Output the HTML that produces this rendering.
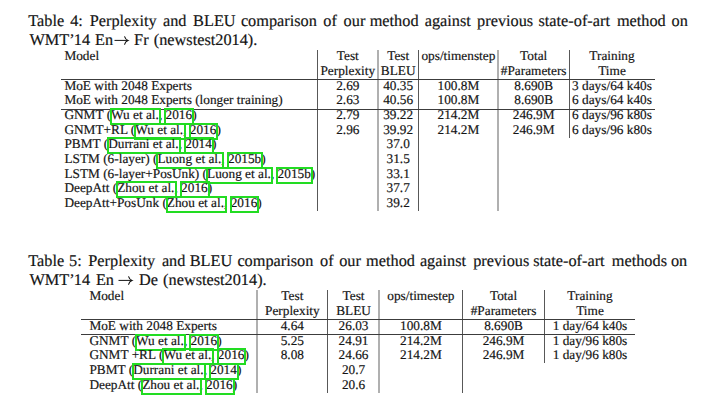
<!DOCTYPE html>
<html><head><meta charset="utf-8"><style>
html,body{margin:0;padding:0;background:#fff;}
body{width:723px;height:407px;position:relative;overflow:hidden;font-family:"Liberation Serif",serif;color:#141414;}
.t{position:absolute;white-space:nowrap;-webkit-text-stroke:0.18px #141414;text-rendering:geometricPrecision;}
.j{text-align:justify;text-align-last:justify;white-space:normal;}
.l{position:absolute;}
.c{position:relative;}
.c::after{content:"";position:absolute;left:-1.2px;right:0.8px;top:0.8px;bottom:-2.8px;border:2px solid #22dc22;}
.y::after{right:-2px;}
</style></head><body>
<div class="t" style="left:28.30px;top:13.00px;font-size:16.3px;line-height:16.3px">Table</div>
<div class="t" style="left:70.20px;top:13.00px;font-size:16.3px;line-height:16.3px">4:</div>
<div class="t" style="left:89.70px;top:13.00px;font-size:16.3px;line-height:16.3px">Perplexity</div>
<div class="t" style="left:163.00px;top:13.00px;font-size:16.3px;line-height:16.3px">and</div>
<div class="t" style="left:193.10px;top:13.00px;font-size:16.3px;line-height:16.3px">BLEU</div>
<div class="t" style="left:240.90px;top:13.00px;font-size:16.3px;line-height:16.3px">comparison</div>
<div class="t" style="left:323.30px;top:13.00px;font-size:16.3px;line-height:16.3px">of</div>
<div class="t" style="left:343.60px;top:13.00px;font-size:16.3px;line-height:16.3px">our</div>
<div class="t" style="left:369.70px;top:13.00px;font-size:16.3px;line-height:16.3px">method</div>
<div class="t" style="left:424.70px;top:13.00px;font-size:16.3px;line-height:16.3px">against</div>
<div class="t" style="left:477.10px;top:13.00px;font-size:16.3px;line-height:16.3px">previous</div>
<div class="t" style="left:538.50px;top:13.00px;font-size:16.3px;line-height:16.3px">state-of-art</div>
<div class="t" style="left:616.90px;top:13.00px;font-size:16.3px;line-height:16.3px">method</div>
<div class="t" style="left:671.60px;top:13.00px;font-size:16.3px;line-height:16.3px">on</div>
<div class="t" style="left:29.40px;top:32.00px;font-size:16.3px;line-height:16.3px">WMT’</div>
<div class="t" style="left:73.80px;top:32.00px;font-size:16.3px;line-height:16.3px">14</div>
<div class="t" style="left:95.10px;top:32.00px;font-size:16.3px;line-height:16.3px">En</div>
<div class="t" style="left:134.10px;top:32.00px;font-size:16.3px;line-height:16.3px">Fr</div>
<div class="t" style="left:153.80px;top:32.00px;font-size:16.3px;line-height:16.3px">(newstest2014).</div>
<svg class="l" style="left:113.70px;top:36.00px" width="17" height="10" viewBox="0 0 17 10"><path d="M0.5,4.4 H13.6" stroke="#141414" stroke-width="1" fill="none"/><path d="M10.6,0.7 Q11.4,3.5 14.0,4.4 Q11.4,5.3 10.6,8.3" stroke="#141414" stroke-width="1.1" stroke-linecap="round" fill="none"/></svg>
<div class="l" style="left:317px;top:50.30px;width:1px;height:160.90px;background:#585858"></div>
<div class="l" style="left:377px;top:50.30px;width:2px;height:160.90px;background:#b0b0b0"></div>
<div class="l" style="left:418px;top:50.30px;width:1px;height:160.90px;background:#585858"></div>
<div class="l" style="left:497px;top:50.30px;width:2px;height:160.90px;background:#b0b0b0"></div>
<div class="l" style="left:569px;top:50.30px;width:1px;height:88.00px;background:#585858"></div>
<div class="l" style="left:61.20px;top:78.80px;width:593.40px;height:1.0px;background:#3c3c3c"></div>
<div class="l" style="left:61.20px;top:108.50px;width:593.40px;height:1.0px;background:#3c3c3c"></div>
<div class="t" style="left:64.40px;top:49.00px;font-size:13.3px;line-height:13.3px">Model</div>
<div class="t" style="left:197.80px;width:300px;text-align:center;top:49.00px;font-size:13.3px;line-height:13.3px">Test</div>
<div class="t" style="left:197.80px;width:300px;text-align:center;top:64.00px;font-size:13.3px;line-height:13.3px">Perplexity</div>
<div class="t" style="left:248.20px;width:300px;text-align:center;top:49.00px;font-size:13.3px;line-height:13.3px">Test</div>
<div class="t" style="left:248.20px;width:300px;text-align:center;top:64.00px;font-size:13.3px;line-height:13.3px">BLEU</div>
<div class="t" style="left:308.40px;width:300px;text-align:center;top:49.00px;font-size:13.3px;line-height:13.3px">ops/timenstep</div>
<div class="t" style="left:383.70px;width:300px;text-align:center;top:49.00px;font-size:13.3px;line-height:13.3px">Total</div>
<div class="t" style="left:383.70px;width:300px;text-align:center;top:64.00px;font-size:13.3px;line-height:13.3px">#Parameters</div>
<div class="t" style="left:462.00px;width:300px;text-align:center;top:49.00px;font-size:13.3px;line-height:13.3px">Training</div>
<div class="t" style="left:462.00px;width:300px;text-align:center;top:64.00px;font-size:13.3px;line-height:13.3px">Time</div>
<div class="t" style="left:64.40px;top:79.00px;font-size:13.3px;line-height:13.3px">MoE with 2048 Experts</div>
<div class="t" style="left:64.40px;top:93.00px;font-size:13.3px;line-height:13.3px">MoE with 2048 Experts (longer training)</div>
<div class="t" style="left:64.40px;top:108.00px;font-size:13.3px;line-height:13.3px">GNMT (<span class="c a">Wu et al.,</span> <span class="c y">2016</span>)</div>
<div class="t" style="left:64.40px;top:123.00px;font-size:13.3px;line-height:13.3px">GNMT+RL (<span class="c a">Wu et al.,</span> <span class="c y">2016</span>)</div>
<div class="t" style="left:64.40px;top:137.00px;font-size:13.3px;line-height:13.3px">PBMT (<span class="c a">Durrani et al.,</span> <span class="c y">2014</span>)</div>
<div class="t" style="left:64.40px;top:152.00px;font-size:13.3px;line-height:13.3px">LSTM (6-layer) (<span class="c a">Luong et al.,</span> <span class="c y">2015b</span>)</div>
<div class="t" style="left:64.40px;top:167.00px;font-size:13.3px;line-height:13.3px">LSTM (6-layer+PosUnk) (<span class="c a">Luong et al.,</span> <span class="c y">2015b</span>)</div>
<div class="t" style="left:64.40px;top:181.00px;font-size:13.3px;line-height:13.3px">DeepAtt (<span class="c a">Zhou et al.,</span> <span class="c y">2016</span>)</div>
<div class="t" style="left:64.40px;top:196.00px;font-size:13.3px;line-height:13.3px">DeepAtt+PosUnk (<span class="c a">Zhou et al.,</span> <span class="c y">2016</span>)</div>
<div class="t" style="left:248.20px;width:300px;text-align:center;top:79.00px;font-size:13.3px;line-height:13.3px">40.35</div>
<div class="t" style="left:248.20px;width:300px;text-align:center;top:93.00px;font-size:13.3px;line-height:13.3px">40.56</div>
<div class="t" style="left:248.20px;width:300px;text-align:center;top:108.00px;font-size:13.3px;line-height:13.3px">39.22</div>
<div class="t" style="left:248.20px;width:300px;text-align:center;top:123.00px;font-size:13.3px;line-height:13.3px">39.92</div>
<div class="t" style="left:248.20px;width:300px;text-align:center;top:137.00px;font-size:13.3px;line-height:13.3px">37.0</div>
<div class="t" style="left:248.20px;width:300px;text-align:center;top:152.00px;font-size:13.3px;line-height:13.3px">31.5</div>
<div class="t" style="left:248.20px;width:300px;text-align:center;top:167.00px;font-size:13.3px;line-height:13.3px">33.1</div>
<div class="t" style="left:248.20px;width:300px;text-align:center;top:181.00px;font-size:13.3px;line-height:13.3px">37.7</div>
<div class="t" style="left:248.20px;width:300px;text-align:center;top:196.00px;font-size:13.3px;line-height:13.3px">39.2</div>
<div class="t" style="left:197.80px;width:300px;text-align:center;top:79.00px;font-size:13.3px;line-height:13.3px">2.69</div>
<div class="t" style="left:308.40px;width:300px;text-align:center;top:79.00px;font-size:13.3px;line-height:13.3px">100.8M</div>
<div class="t" style="left:383.70px;width:300px;text-align:center;top:79.00px;font-size:13.3px;line-height:13.3px">8.690B</div>
<div class="t" style="left:462.00px;width:300px;text-align:center;top:79.00px;font-size:13.3px;line-height:13.3px">3 days/64 k40s</div>
<div class="t" style="left:197.80px;width:300px;text-align:center;top:93.00px;font-size:13.3px;line-height:13.3px">2.63</div>
<div class="t" style="left:308.40px;width:300px;text-align:center;top:93.00px;font-size:13.3px;line-height:13.3px">100.8M</div>
<div class="t" style="left:383.70px;width:300px;text-align:center;top:93.00px;font-size:13.3px;line-height:13.3px">8.690B</div>
<div class="t" style="left:462.00px;width:300px;text-align:center;top:93.00px;font-size:13.3px;line-height:13.3px">6 days/64 k40s</div>
<div class="t" style="left:197.80px;width:300px;text-align:center;top:108.00px;font-size:13.3px;line-height:13.3px">2.79</div>
<div class="t" style="left:308.40px;width:300px;text-align:center;top:108.00px;font-size:13.3px;line-height:13.3px">214.2M</div>
<div class="t" style="left:383.70px;width:300px;text-align:center;top:108.00px;font-size:13.3px;line-height:13.3px">246.9M</div>
<div class="t" style="left:462.00px;width:300px;text-align:center;top:108.00px;font-size:13.3px;line-height:13.3px">6 days/96 k80s</div>
<div class="t" style="left:197.80px;width:300px;text-align:center;top:123.00px;font-size:13.3px;line-height:13.3px">2.96</div>
<div class="t" style="left:308.40px;width:300px;text-align:center;top:123.00px;font-size:13.3px;line-height:13.3px">214.2M</div>
<div class="t" style="left:383.70px;width:300px;text-align:center;top:123.00px;font-size:13.3px;line-height:13.3px">246.9M</div>
<div class="t" style="left:462.00px;width:300px;text-align:center;top:123.00px;font-size:13.3px;line-height:13.3px">6 days/96 k80s</div>
<div class="t" style="left:28.30px;top:253.00px;font-size:16.3px;line-height:16.3px">Table</div>
<div class="t" style="left:69.10px;top:253.00px;font-size:16.3px;line-height:16.3px">5:</div>
<div class="t" style="left:88.30px;top:253.00px;font-size:16.3px;line-height:16.3px">Perplexity</div>
<div class="t" style="left:161.90px;top:253.00px;font-size:16.3px;line-height:16.3px">and</div>
<div class="t" style="left:189.70px;top:253.00px;font-size:16.3px;line-height:16.3px">BLEU</div>
<div class="t" style="left:237.40px;top:253.00px;font-size:16.3px;line-height:16.3px">comparison</div>
<div class="t" style="left:320.10px;top:253.00px;font-size:16.3px;line-height:16.3px">of</div>
<div class="t" style="left:339.20px;top:253.00px;font-size:16.3px;line-height:16.3px">our</div>
<div class="t" style="left:366.10px;top:253.00px;font-size:16.3px;line-height:16.3px">method</div>
<div class="t" style="left:419.90px;top:253.00px;font-size:16.3px;line-height:16.3px">against</div>
<div class="t" style="left:473.20px;top:253.00px;font-size:16.3px;line-height:16.3px">previous</div>
<div class="t" style="left:533.20px;top:253.00px;font-size:16.3px;line-height:16.3px">state-of-art</div>
<div class="t" style="left:611.80px;top:253.00px;font-size:16.3px;line-height:16.3px">methods</div>
<div class="t" style="left:670.90px;top:253.00px;font-size:16.3px;line-height:16.3px">on</div>
<div class="t" style="left:29.40px;top:272.00px;font-size:16.3px;line-height:16.3px">WMT’</div>
<div class="t" style="left:73.80px;top:272.00px;font-size:16.3px;line-height:16.3px">14</div>
<div class="t" style="left:95.90px;top:272.00px;font-size:16.3px;line-height:16.3px">En</div>
<div class="t" style="left:139.10px;top:272.00px;font-size:16.3px;line-height:16.3px">De</div>
<div class="t" style="left:163.10px;top:272.00px;font-size:16.3px;line-height:16.3px">(newstest2014).</div>
<svg class="l" style="left:118.40px;top:275.80px" width="17" height="10" viewBox="0 0 17 10"><path d="M0.5,4.4 H13.6" stroke="#141414" stroke-width="1" fill="none"/><path d="M10.6,0.7 Q11.4,3.5 14.0,4.4 Q11.4,5.3 10.6,8.3" stroke="#141414" stroke-width="1.1" stroke-linecap="round" fill="none"/></svg>
<div class="l" style="left:256px;top:290.00px;width:2px;height:102.60px;background:#b0b0b0"></div>
<div class="l" style="left:327px;top:290.00px;width:1px;height:102.60px;background:#585858"></div>
<div class="l" style="left:378px;top:290.00px;width:2px;height:102.60px;background:#b0b0b0"></div>
<div class="l" style="left:462px;top:290.00px;width:1px;height:102.60px;background:#585858"></div>
<div class="l" style="left:544px;top:290.00px;width:1px;height:73.20px;background:#585858"></div>
<div class="l" style="left:81.10px;top:318.90px;width:553.80px;height:1.0px;background:#3c3c3c"></div>
<div class="l" style="left:81.10px;top:333.70px;width:553.80px;height:1.0px;background:#3c3c3c"></div>
<div class="t" style="left:89.40px;top:289.00px;font-size:13.3px;line-height:13.3px">Model</div>
<div class="t" style="left:142.35px;width:300px;text-align:center;top:289.00px;font-size:13.3px;line-height:13.3px">Test</div>
<div class="t" style="left:142.35px;width:300px;text-align:center;top:304.00px;font-size:13.3px;line-height:13.3px">Perplexity</div>
<div class="t" style="left:203.55px;width:300px;text-align:center;top:289.00px;font-size:13.3px;line-height:13.3px">Test</div>
<div class="t" style="left:203.55px;width:300px;text-align:center;top:304.00px;font-size:13.3px;line-height:13.3px">BLEU</div>
<div class="t" style="left:270.90px;width:300px;text-align:center;top:289.00px;font-size:13.3px;line-height:13.3px">ops/timestep</div>
<div class="t" style="left:353.55px;width:300px;text-align:center;top:289.00px;font-size:13.3px;line-height:13.3px">Total</div>
<div class="t" style="left:353.55px;width:300px;text-align:center;top:304.00px;font-size:13.3px;line-height:13.3px">#Parameters</div>
<div class="t" style="left:440.00px;width:300px;text-align:center;top:289.00px;font-size:13.3px;line-height:13.3px">Training</div>
<div class="t" style="left:440.00px;width:300px;text-align:center;top:304.00px;font-size:13.3px;line-height:13.3px">Time</div>
<div class="t" style="left:89.40px;top:319.00px;font-size:13.3px;line-height:13.3px">MoE with 2048 Experts</div>
<div class="t" style="left:89.40px;top:334.00px;font-size:13.3px;line-height:13.3px">GNMT (<span class="c a">Wu et al.,</span> <span class="c y">2016</span>)</div>
<div class="t" style="left:89.40px;top:348.00px;font-size:13.3px;line-height:13.3px">GNMT +RL (<span class="c a">Wu et al.,</span> <span class="c y">2016</span>)</div>
<div class="t" style="left:89.40px;top:363.00px;font-size:13.3px;line-height:13.3px">PBMT (<span class="c a">Durrani et al.,</span> <span class="c y">2014</span>)</div>
<div class="t" style="left:89.40px;top:378.00px;font-size:13.3px;line-height:13.3px">DeepAtt (<span class="c a">Zhou et al.,</span> <span class="c y">2016</span>)</div>
<div class="t" style="left:203.55px;width:300px;text-align:center;top:319.00px;font-size:13.3px;line-height:13.3px">26.03</div>
<div class="t" style="left:203.55px;width:300px;text-align:center;top:334.00px;font-size:13.3px;line-height:13.3px">24.91</div>
<div class="t" style="left:203.55px;width:300px;text-align:center;top:348.00px;font-size:13.3px;line-height:13.3px">24.66</div>
<div class="t" style="left:203.55px;width:300px;text-align:center;top:363.00px;font-size:13.3px;line-height:13.3px">20.7</div>
<div class="t" style="left:203.55px;width:300px;text-align:center;top:378.00px;font-size:13.3px;line-height:13.3px">20.6</div>
<div class="t" style="left:142.35px;width:300px;text-align:center;top:319.00px;font-size:13.3px;line-height:13.3px">4.64</div>
<div class="t" style="left:270.90px;width:300px;text-align:center;top:319.00px;font-size:13.3px;line-height:13.3px">100.8M</div>
<div class="t" style="left:353.55px;width:300px;text-align:center;top:319.00px;font-size:13.3px;line-height:13.3px">8.690B</div>
<div class="t" style="left:440.00px;width:300px;text-align:center;top:319.00px;font-size:13.3px;line-height:13.3px">1 day/64 k40s</div>
<div class="t" style="left:142.35px;width:300px;text-align:center;top:334.00px;font-size:13.3px;line-height:13.3px">5.25</div>
<div class="t" style="left:270.90px;width:300px;text-align:center;top:334.00px;font-size:13.3px;line-height:13.3px">214.2M</div>
<div class="t" style="left:353.55px;width:300px;text-align:center;top:334.00px;font-size:13.3px;line-height:13.3px">246.9M</div>
<div class="t" style="left:440.00px;width:300px;text-align:center;top:334.00px;font-size:13.3px;line-height:13.3px">1 day/96 k80s</div>
<div class="t" style="left:142.35px;width:300px;text-align:center;top:348.00px;font-size:13.3px;line-height:13.3px">8.08</div>
<div class="t" style="left:270.90px;width:300px;text-align:center;top:348.00px;font-size:13.3px;line-height:13.3px">214.2M</div>
<div class="t" style="left:353.55px;width:300px;text-align:center;top:348.00px;font-size:13.3px;line-height:13.3px">246.9M</div>
<div class="t" style="left:440.00px;width:300px;text-align:center;top:348.00px;font-size:13.3px;line-height:13.3px">1 day/96 k80s</div>
</body></html>
